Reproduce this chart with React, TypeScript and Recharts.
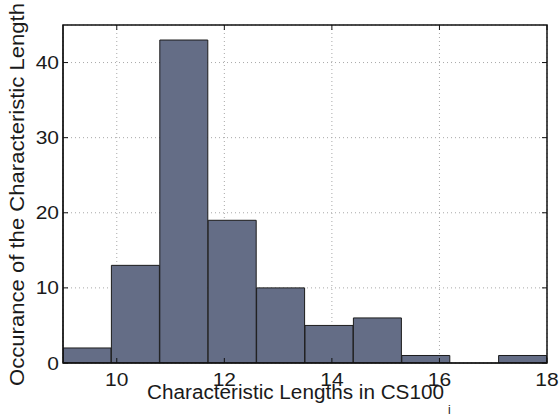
import React from "react"
import { ComposedChart, Bar, XAxis, YAxis, CartesianGrid } from "recharts"

// histogram bins (centres) and counts
const binCenters = [9.45, 10.35, 11.25, 12.15, 13.05, 13.95, 14.85, 15.75, 16.65, 17.55]
const counts = [2, 13, 43, 19, 10, 5, 6, 1, 0, 1]
const xTicks = [10, 12, 14, 16, 18]
const yTicks = [0, 10, 20, 30, 40]
const xDomain = [9, 18]
const yDomain = [0, 45]

const data = binCenters.map((c, i) => ({ center: c, count: counts[i] }))

const W = 559
const H = 416
const MARGIN = { top: 25, right: 12, bottom: 23, left: 23 }
const X_AXIS_H = 30
const Y_AXIS_W = 40
// plot box, used for the frame drawn around it
const plot = {
  x: MARGIN.left + Y_AXIS_W,
  y: MARGIN.top,
  w: W - MARGIN.left - Y_AXIS_W - MARGIN.right,
  h: H - MARGIN.top - MARGIN.bottom - X_AXIS_H,
}

const FONT = '"Liberation Sans", Arial, Helvetica, sans-serif'
const TEXT = "#1a1a1a"
const FRAME = "#111111"
const GRID = "#a8a8a8"
const TICK_LEN = 5

function BottomTick(props: any) {
  const { x, y, payload } = props
  return (
    <g>
      <line x1={x} x2={x} y1={y} y2={y - TICK_LEN} stroke={FRAME} />
      <line x1={x} x2={x} y1={plot.y} y2={plot.y + TICK_LEN} stroke={FRAME} />
      <text
        transform={`translate(${x},${y + 23}) scale(1.13,1)`}
        textAnchor="middle"
        fontSize={18.6}
        fontFamily={FONT}
        fill={TEXT}
      >
        {payload.value}
      </text>
    </g>
  )
}

function LeftTick(props: any) {
  const { x, y, payload } = props
  return (
    <g>
      <line x1={x} x2={x + TICK_LEN} y1={y} y2={y} stroke={FRAME} />
      <line x1={plot.x + plot.w - TICK_LEN} x2={plot.x + plot.w} y1={y} y2={y} stroke={FRAME} />
      <text
        transform={`translate(${x - 4},${y + 6.6}) scale(1.13,1)`}
        textAnchor="end"
        fontSize={18.6}
        fontFamily={FONT}
        fill={TEXT}
      >
        {payload.value}
      </text>
    </g>
  )
}

export default function App() {
  return (
    <div style={{ position: "relative", width: W, height: H, background: "#fff" }}>
      <style>{`body{margin:0}`}</style>
      <ComposedChart
        width={W}
        height={H}
        data={data}
        margin={MARGIN}
        barCategoryGap={0}
        barGap={0}
      >
        <CartesianGrid stroke={GRID} strokeDasharray="1 3" />
        <XAxis
          dataKey="center"
          type="number"
          domain={xDomain}
          ticks={xTicks}
          height={X_AXIS_H}
          tickSize={0}
          tickMargin={0}
          tick={(p: any) => <BottomTick {...p} />}
          axisLine={{ stroke: FRAME }}
          allowDataOverflow
        />
        <YAxis
          type="number"
          domain={yDomain}
          ticks={yTicks}
          width={Y_AXIS_W}
          tickSize={0}
          tickMargin={0}
          tick={(p: any) => <LeftTick {...p} />}
          axisLine={{ stroke: FRAME }}
          allowDataOverflow
        />
        <Bar
          dataKey="count"
          fill="#646d86"
          stroke="#1c1c1c"
          strokeWidth={1}
          isAnimationActive={false}
        />
      </ComposedChart>
      <svg
        width={W}
        height={H}
        style={{ position: "absolute", left: 0, top: 0, pointerEvents: "none" }}
      >
        {/* plot frame */}
        <rect
          x={plot.x}
          y={plot.y}
          width={plot.w}
          height={plot.h}
          fill="none"
          stroke={FRAME}
          strokeWidth={1.5}
        />
        <text
          transform="translate(24,194.5) rotate(-90)"
          textAnchor="middle"
          fontSize={20}
          fontFamily={FONT}
          fill={TEXT}
          textLength={383}
          lengthAdjust="spacingAndGlyphs"
        >
          Occurance of the Characteristic Length
        </text>
        <text
          x={147}
          y={398.5}
          fontSize={20}
          fontFamily={FONT}
          fill={TEXT}
          textLength={297}
          lengthAdjust="spacingAndGlyphs"
        >
          Characteristic Lengths in CS100
        </text>
        <text x={448} y={414} fontSize={12} fontFamily={FONT} fill={TEXT}>
          i
        </text>
      </svg>
    </div>
  )
}
